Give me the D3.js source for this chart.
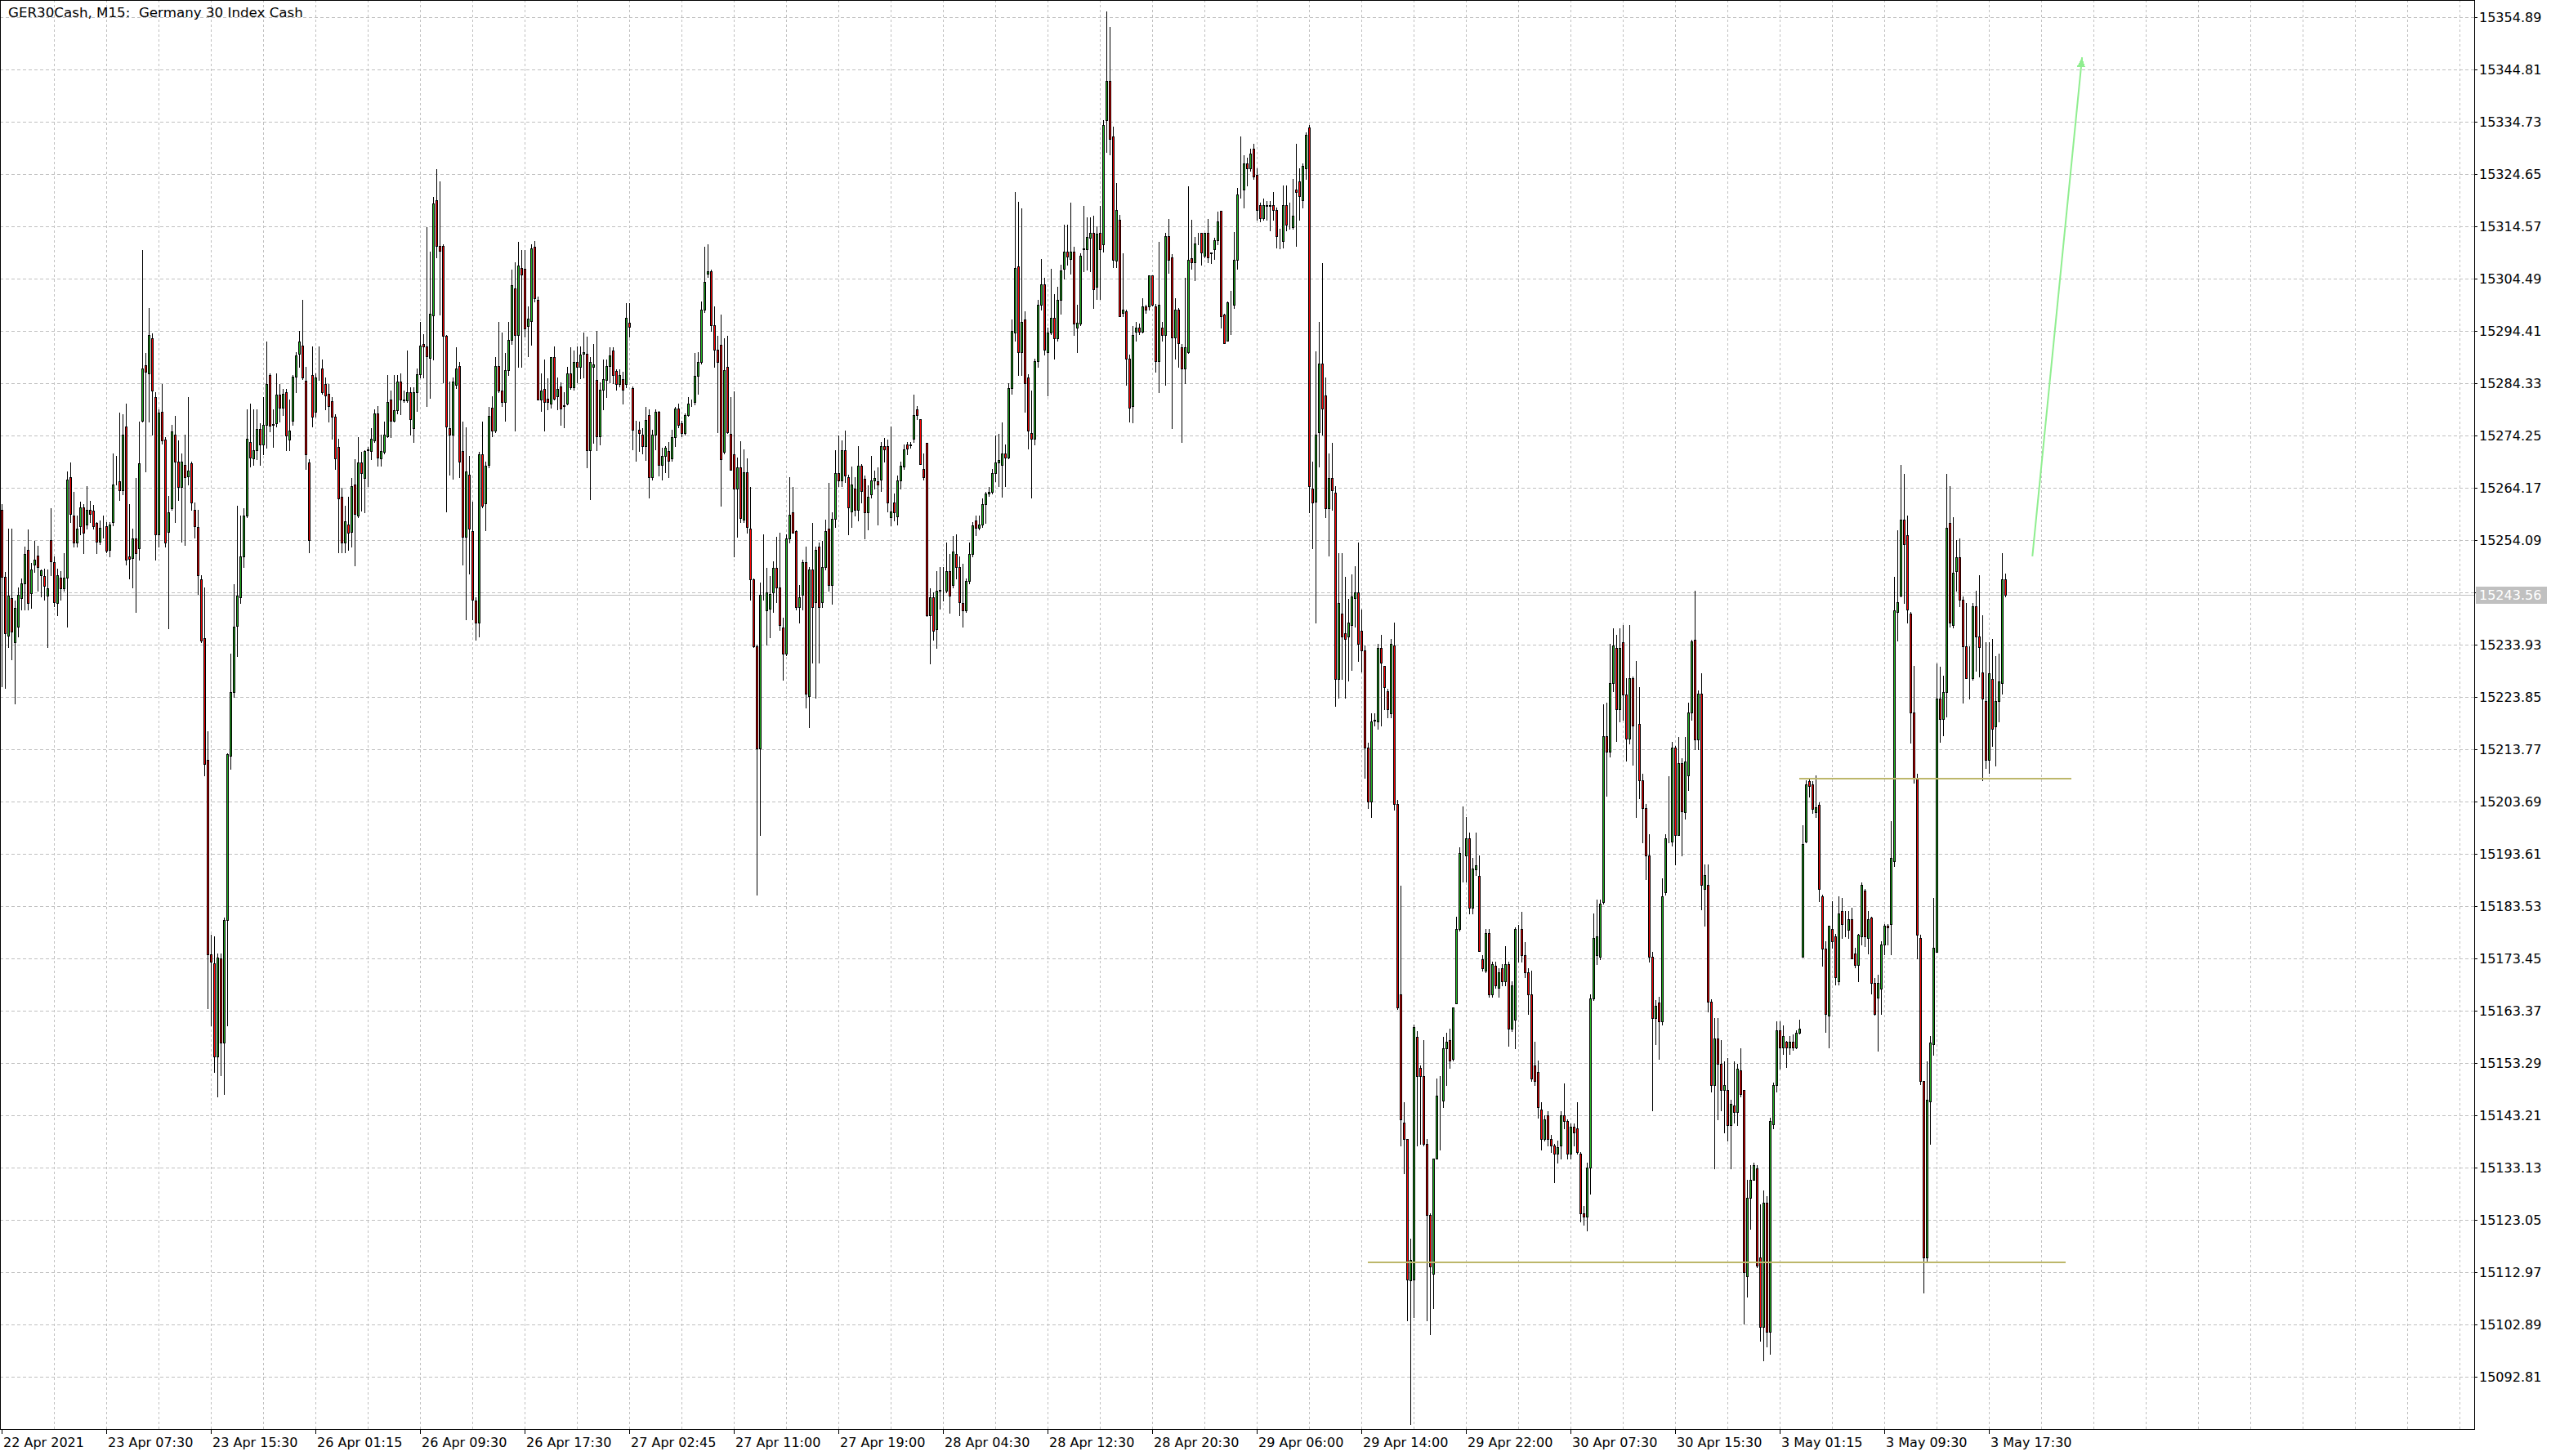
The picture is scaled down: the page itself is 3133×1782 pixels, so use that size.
<!DOCTYPE html>
<html><head><meta charset="utf-8">
<script src="https://cdn.jsdelivr.net/npm/d3@7"></script>
<style>html,body{margin:0;padding:0;background:#fff;}svg{display:block;}text{white-space:pre;}</style>
</head><body>
<script>
const chartTitle = "GER30Cash, M15:  Germany 30 Index Cash";
const timeLabels = ["22 Apr 2021","23 Apr 07:30","23 Apr 15:30","26 Apr 01:15","26 Apr 09:30","26 Apr 17:30","27 Apr 02:45","27 Apr 11:00","27 Apr 19:00","28 Apr 04:30","28 Apr 12:30","28 Apr 20:30","29 Apr 06:00","29 Apr 14:00","29 Apr 22:00","30 Apr 07:30","30 Apr 15:30","3 May 01:15","3 May 09:30","3 May 17:30"];
const barsPerLabel = 32;
const barsPerGrid = 16;
const priceTicks = [15354.89,15344.81,15334.73,15324.65,15314.57,15304.49,15294.41,15284.33,15274.25,15264.17,15254.09,15244.01,15233.93,15223.85,15213.77,15203.69,15193.61,15183.53,15173.45,15163.37,15153.29,15143.21,15133.13,15123.05,15112.97,15102.89,15092.81];
const currentPrice = 15243.56;
const priceDomain = [15082.77, 15358.24];
const barDomain = [0, 756.5];

const opens = [
15260.0,15247.0,15235.7,15242.9,15234.5,15237.4,15242.9,15245.8,15252.2,15243.9,
15249.4,15251.1,15247.3,15247.2,15243.5,15254.1,15249.9,15242.0,15246.9,15244.9,
15246.9,15266.3,15258.8,15253.7,15256.8,15260.4,15257.1,15259.9,15259.8,15257.4,
15253.8,15255.2,15256.8,15252.2,15257.6,15265.5,15265.5,15263.7,15276.0,15251.0,
15250.6,15254.4,15252.6,15277.2,15287.8,15286.3,15293.1,15281.7,15255.2,15278.9,
15273.5,15255.7,15260.3,15274.5,15269.3,15264.3,15268.7,15266.4,15268.9,15260.0,
15256.7,15246.5,15235.3,15211.8,15174.2,15172.6,15154.6,15173.5,15157.3,15180.9,
15212.5,15224.9,15237.6,15243.1,15251.0,15258.8,15273.1,15269.9,15271.5,15275.5,
15272.6,15276.4,15285.9,15276.5,15276.7,15282.1,15279.6,15282.7,15273.5,15277.2,
15285.6,15290.0,15291.6,15284.9,15269.1,15286.0,15278.8,15286.3,15287.2,15284.2,
15282.3,15280.9,15277.9,15272.1,15262.5,15253.7,15257.1,15255.7,15264.9,15258.9,
15269.1,15266.1,15271.5,15271.3,15273.3,15278.6,15269.9,15271.2,15274.2,15281.2,
15277.2,15279.1,15284.7,15281.2,15281.0,15282.7,15275.7,15282.7,15286.1,15292.0,
15291.5,15289.2,15297.4,15319.6,15310.9,15310.8,15293.5,15275.7,15274.5,15284.1,
15287.7,15271.3,15254.7,15266.8,15255.8,15242.5,15238.3,15270.7,15261.2,15268.6,
15279.6,15275.2,15287.7,15283.0,15280.7,15286.9,15292.7,15302.7,15293.6,15306.6,
15306.5,15295.4,15296.3,15310.6,15300.5,15281.2,15283.3,15281.4,15280.5,15289.4,
15281.9,15283.8,15280.0,15280.4,15286.3,15283.6,15288.4,15287.5,15290.0,15290.1,
15271.4,15287.5,15285.0,15274.1,15283.1,15285.0,15287.7,15290.6,15286.8,15284.2,
15285.1,15284.2,15296.1,15283.4,15275.4,15275.4,15274.4,15272.3,15278.3,15266.3,
15274.5,15278.8,15268.6,15270.4,15271.3,15269.9,15274.0,15279.5,15276.6,15274.7,
15278.3,15280.4,15280.7,15285.8,15288.4,15298.5,15305.4,15306.0,15295.6,15290.9,
15291.8,15271.1,15287.5,15274.6,15270.6,15264.1,15268.2,15258.1,15267.2,15256.4,
15246.5,15233.6,15214.0,15243.7,15240.6,15240.9,15244.0,15248.8,15245.0,15237.3,
15232.3,15254.4,15259.5,15255.8,15241.2,15243.6,15249.9,15224.1,15248.4,15242.1,
15252.8,15242.1,15248.9,15256.4,15245.5,15258.3,15267.1,15265.6,15271.4,15266.2,
15259.7,15264.1,15259.9,15268.5,15265.9,15259.5,15262.9,15265.7,15265.5,15265.8,
15272.2,15272.2,15258.6,15261.4,15258.7,15265.7,15268.3,15272.6,15272.4,15273.7,
15279.3,15277.4,15267.9,15272.9,15239.6,15243.1,15237.0,15244.4,15244.5,15244.4,
15248.1,15245.5,15251.5,15248.9,15242.0,15240.6,15246.2,15251.5,15257.9,15256.5,
15257.1,15261.0,15263.1,15263.4,15267.1,15269.1,15268.7,15270.9,15270.1,15283.5,
15294.1,15306.9,15290.4,15296.6,15285.5,15274.8,15273.7,15288.7,15299.5,15303.4,
15290.4,15294.1,15296.9,15293.0,15300.5,15306.4,15309.8,15308.3,15309.8,15295.1,
15295.9,15310.2,15310.2,15312.4,15313.4,15302.9,15313.4,15311.1,15335.1,15342.7,
15331.9,15308.0,15315.9,15297.9,15298.2,15289.1,15280.0,15294.3,15295.1,15294.3,
15299.1,15299.1,15305.1,15299.1,15288.7,15295.1,15293.6,15312.7,15308.7,15293.2,
15298.6,15291.3,15287.2,15290.4,15308.5,15307.7,15312.0,15313.3,15308.9,15313.3,
15309.4,15310.2,15312.0,15317.6,15297.6,15292.5,15299.9,15299.5,15308.1,15320.7,
15321.7,15326.7,15325.8,15329.5,15324.5,15318.7,15316.2,15318.6,15318.7,15318.7,
15317.8,15312.5,15311.7,15318.7,15315.0,15314.5,15321.7,15323.3,15319.7,15325.8,
15333.7,15264.1,15261.6,15275.0,15288.2,15282.0,15260.3,15266.1,15263.3,15227.4,
15240.0,15236.1,15235.5,15237.8,15243.0,15244.1,15236.6,15232.8,15214.1,15203.8,
15219.4,15219.1,15233.3,15229.8,15225.0,15220.8,15233.8,15203.3,15166.6,15141.9,
15138.7,15111.4,15111.6,15158.3,15152.4,15150.8,15137.8,15124.1,15112.7,15134.9,
15146.6,15146.1,15156.1,15157.8,15154.1,15164.9,15179.1,15193.3,15193.3,15196.6,
15183.3,15190.6,15189.4,15173.3,15171.1,15178.3,15166.6,15172.1,15167.8,15171.6,
15169.1,15172.4,15159.9,15161.6,15179.1,15179.1,15174.1,15170.8,15166.6,15152.8,
15151.6,15144.4,15138.7,15143.3,15138.7,15137.4,15135.8,15137.4,15143.3,15142.1,
15135.8,15141.1,15140.8,15135.8,15124.4,15123.7,15133.2,15165.8,15174.1,15173.8,
15184.4,15216.3,15213.3,15226.6,15233.3,15221.6,15234.4,15224.4,15215.8,15227.5,
15218.3,15218.7,15207.8,15202.4,15193.3,15173.8,15162.0,15165.0,15161.4,15186.3,
15196.4,15196.0,15214.2,15197.2,15211.2,15201.7,15208.8,15220.9,15234.9,15215.7,
15224.6,15186.9,15187.7,15165.2,15149.0,15158.1,15153.1,15148.1,15148.1,15141.3,
15145.1,15143.9,15151.9,15148.1,15112.2,15127.3,15130.8,15133.0,15115.8,15102.4,
15126.4,15101.5,15141.5,15149.0,15159.6,15156.4,15157.4,15156.4,15157.4,15156.4,
15159.2,15173.8,15196.0,15207.6,15207.0,15201.7,15203.1,15185.4,15175.4,15162.4,
15179.2,15177.8,15169.1,15182.7,15179.4,15179.0,15181.0,15174.4,15172.3,15177.8,
15186.5,15177.4,15181.3,15168.8,15165.9,15167.6,15176.2,15179.8,15180.1,15192.2,
15240.2,15243.4,15258.0,15255.0,15239.9,15220.9,15208.2,15177.4,15149.8,15115.8,
15146.0,15156.9,15174.7,15223.6,15219.7,15224.8,15257.4,15237.8,15248.2,15250.9,
15242.6,15233.7,15227.8,15227.5,15241.4,15235.5,15228.6,15223.1,15211.8,15227.3,
15218.2,15223.1,15226.5,15246.5];

const highs = [
15261.0,15248.0,15256.4,15256.4,15242.5,15245.0,15246.8,15252.8,15256.2,15249.8,
15254.0,15253.0,15248.5,15248.6,15248.5,15260.3,15251.0,15248.6,15248.2,15251.6,
15267.3,15269.1,15263.5,15258.8,15261.5,15261.0,15264.6,15261.7,15260.9,15257.6,
15257.9,15258.8,15257.6,15257.6,15270.9,15270.3,15278.7,15278.4,15280.5,15261.0,
15256.4,15266.1,15276.9,15310.1,15290.2,15298.8,15294.0,15282.7,15279.3,15284.2,
15273.9,15262.7,15276.3,15278.1,15273.3,15270.9,15274.5,15281.7,15269.3,15261.3,
15260.0,15247.4,15245.0,15217.3,15178.1,15177.8,15174.5,15174.5,15181.3,15213.1,
15232.3,15245.7,15260.7,15258.8,15260.3,15279.3,15280.5,15279.3,15279.3,15276.7,
15281.7,15292.4,15286.3,15279.3,15286.3,15284.2,15283.2,15283.2,15281.3,15286.0,
15290.4,15294.4,15300.4,15287.5,15269.7,15291.4,15286.3,15291.4,15289.0,15285.4,
15284.2,15281.7,15278.4,15273.6,15264.2,15260.7,15262.5,15266.1,15269.7,15273.9,
15271.2,15271.5,15272.1,15275.7,15279.3,15280.0,15274.5,15276.9,15286.0,15283.0,
15286.0,15286.0,15286.3,15282.9,15290.7,15283.6,15283.6,15287.2,15296.2,15293.8,
15314.5,15309.7,15320.3,15325.6,15323.3,15311.1,15293.7,15284.7,15285.5,15291.3,
15288.4,15277.0,15275.9,15270.4,15261.6,15243.1,15271.1,15277.0,15269.3,15279.8,
15281.9,15289.4,15296.2,15294.2,15290.2,15296.2,15306.3,15307.7,15311.6,15310.1,
15310.1,15299.1,15311.1,15311.8,15301.0,15286.3,15288.9,15285.3,15289.4,15291.5,
15285.5,15284.6,15282.6,15287.5,15291.3,15290.6,15291.5,15291.5,15294.2,15293.4,
15289.4,15292.0,15294.4,15284.6,15288.9,15288.9,15291.3,15291.3,15287.0,15287.0,
15286.5,15299.8,15299.8,15283.8,15277.1,15276.9,15275.7,15279.8,15279.3,15275.4,
15279.3,15279.0,15272.0,15272.3,15273.0,15275.4,15279.8,15280.4,15277.1,15278.6,
15281.7,15281.2,15290.2,15290.4,15300.2,15310.6,15311.1,15306.3,15299.1,15293.5,
15297.6,15293.0,15293.5,15281.7,15282.8,15270.1,15273.2,15271.6,15269.9,15264.3,
15246.8,15233.9,15246.0,15255.2,15248.8,15247.2,15250.1,15254.7,15255.6,15239.2,
15255.2,15266.3,15264.3,15256.1,15245.5,15250.3,15252.8,15248.9,15257.4,15252.8,
15253.7,15253.9,15258.1,15265.1,15259.5,15271.4,15274.3,15273.4,15275.2,15266.8,
15268.3,15266.3,15272.2,15268.8,15266.5,15264.7,15270.3,15267.5,15268.2,15273.1,
15273.8,15273.5,15276.1,15263.1,15266.6,15269.2,15272.6,15273.0,15273.1,15282.2,
15280.0,15277.4,15270.8,15272.9,15244.9,15244.1,15248.1,15249.0,15249.0,15253.7,
15251.5,15254.9,15255.2,15251.0,15249.5,15246.8,15253.6,15257.6,15258.8,15258.8,
15262.2,15263.5,15264.4,15267.9,15274.3,15274.6,15276.8,15272.6,15284.3,15296.6,
15321.3,15319.4,15318.1,15298.2,15286.1,15283.0,15289.1,15300.5,15308.3,15304.7,
15295.1,15306.4,15301.6,15302.9,15307.2,15315.0,15315.0,15319.2,15310.7,15299.5,
15309.4,15318.6,15316.3,15316.3,15316.6,15314.6,15318.6,15335.1,15356.1,15353.1,
15333.9,15323.0,15316.8,15309.4,15298.6,15289.9,15295.4,15296.2,15295.9,15300.7,
15299.5,15305.1,15305.1,15299.6,15311.6,15296.2,15313.3,15316.1,15309.2,15300.7,
15298.8,15291.9,15304.7,15322.4,15315.9,15312.6,15313.3,15313.3,15313.3,15316.1,
15309.5,15312.4,15317.5,15317.6,15297.7,15300.1,15302.1,15313.5,15322.0,15331.9,
15328.3,15327.8,15329.5,15330.5,15325.8,15319.2,15320.0,15319.5,15319.5,15321.2,
15318.3,15314.2,15322.5,15322.5,15319.2,15323.8,15330.5,15325.8,15326.7,15332.8,
15334.2,15269.2,15290.5,15296.2,15307.5,15285.5,15270.8,15272.8,15264.5,15251.6,
15251.6,15247.1,15242.8,15247.5,15249.1,15253.6,15240.8,15233.8,15215.0,15220.8,
15220.8,15234.1,15235.8,15229.8,15225.5,15235.0,15238.3,15204.1,15187.5,15145.8,
15138.7,15119.4,15160.8,15159.4,15152.8,15157.8,15138.7,15124.4,15134.9,15150.4,
15150.8,15158.3,15159.1,15159.9,15164.1,15181.6,15194.9,15202.8,15200.8,15197.8,
15192.8,15197.8,15193.3,15174.1,15179.1,15179.1,15172.8,15172.8,15171.6,15172.4,
15175.8,15172.8,15169.1,15179.4,15179.9,15182.4,15176.6,15171.6,15171.1,15157.4,
15153.8,15145.8,15143.3,15144.1,15139.4,15137.8,15138.3,15144.1,15149.4,15142.4,
15141.6,15141.6,15145.8,15136.1,15125.8,15134.1,15166.6,15182.1,15184.9,15184.9,
15222.4,15222.8,15234.1,15237.1,15235.8,15237.1,15237.8,15227.5,15237.8,15227.8,
15230.8,15225.8,15209.1,15203.3,15197.4,15174.7,15165.5,15166.1,15188.9,15197.5,
15208.6,15215.3,15214.5,15216.2,15212.1,15216.2,15222.8,15234.9,15244.3,15225.2,
15228.4,15191.6,15191.6,15165.6,15162.0,15162.0,15157.8,15153.7,15154.3,15146.2,
15153.7,15153.1,15156.1,15148.1,15130.8,15133.6,15134.1,15133.6,15126.1,15128.8,
15127.6,15142.7,15149.6,15161.4,15161.4,15160.5,15157.6,15158.6,15158.8,15159.6,
15161.6,15199.1,15207.9,15208.2,15207.6,15208.8,15203.5,15185.7,15176.8,15179.8,
15184.5,15178.2,15185.4,15185.1,15182.7,15182.7,15183.3,15175.6,15178.2,15188.1,
15186.9,15182.7,15181.6,15169.7,15170.3,15176.8,15180.1,15180.1,15199.9,15247.0,
15256.1,15268.7,15266.9,15258.8,15240.2,15229.9,15209.1,15178.0,15149.8,15153.7,
15158.5,15185.1,15230.4,15229.7,15228.0,15266.9,15264.5,15258.6,15254.1,15254.4,
15243.2,15242.0,15233.7,15242.0,15244.4,15247.3,15239.7,15234.5,15234.4,15235.0,
15231.8,15232.2,15251.6,15247.6];

const lows = [
15226.0,15225.7,15233.5,15231.1,15222.7,15235.6,15240.8,15240.8,15240.8,15241.0,
15248.0,15244.4,15243.2,15242.6,15233.5,15247.4,15241.4,15239.6,15242.6,15244.3,
15237.4,15257.6,15252.8,15252.8,15255.2,15251.6,15256.4,15257.6,15256.4,15251.6,
15253.3,15254.6,15251.8,15251.0,15256.9,15264.9,15261.8,15263.0,15249.4,15246.8,
15245.0,15240.2,15250.4,15277.0,15267.3,15277.0,15274.5,15250.4,15252.8,15272.7,
15252.8,15237.1,15260.0,15257.6,15261.8,15253.8,15253.2,15264.9,15260.0,15254.6,
15243.7,15234.4,15208.8,15163.9,15160.6,15151.6,15146.8,15151.0,15147.4,15160.6,
15210.0,15223.9,15231.7,15242.0,15249.0,15258.6,15268.3,15268.7,15269.7,15268.7,
15270.7,15271.9,15275.1,15272.1,15276.0,15276.9,15278.2,15271.5,15271.5,15276.3,
15282.7,15287.5,15285.1,15267.9,15251.7,15276.0,15277.9,15285.0,15282.3,15279.3,
15277.0,15273.6,15267.9,15251.7,15251.7,15251.8,15252.2,15252.9,15249.2,15258.6,
15259.8,15259.5,15264.5,15269.7,15273.0,15268.5,15268.5,15270.9,15274.0,15274.0,
15277.0,15278.5,15278.4,15280.8,15280.8,15274.5,15273.0,15279.0,15285.5,15285.5,
15280.0,15281.5,15288.9,15308.7,15297.6,15284.6,15259.7,15266.7,15266.0,15283.4,
15266.3,15249.4,15238.8,15247.7,15238.8,15234.9,15235.6,15260.5,15256.1,15268.2,
15274.2,15274.9,15282.7,15280.0,15277.1,15286.0,15292.0,15275.2,15287.6,15287.6,
15293.3,15289.6,15291.8,15300.2,15281.2,15279.0,15275.2,15279.3,15279.6,15281.2,
15279.3,15276.4,15275.9,15280.2,15283.3,15283.1,15284.6,15285.3,15285.5,15268.2,
15262.0,15272.8,15271.5,15272.5,15279.3,15281.7,15284.6,15284.4,15283.1,15283.8,
15280.5,15283.6,15293.3,15271.6,15269.4,15271.3,15270.9,15269.6,15262.4,15265.8,
15271.6,15266.5,15265.8,15267.2,15266.3,15269.4,15272.2,15275.9,15274.2,15274.4,
15278.0,15279.9,15280.2,15282.4,15288.2,15298.1,15304.8,15294.4,15287.5,15274.9,
15260.7,15270.9,15274.8,15267.7,15251.0,15254.7,15257.6,15257.6,15255.6,15242.6,
15233.5,15185.8,15197.3,15242.6,15233.9,15235.4,15240.2,15242.1,15236.8,15227.2,
15232.0,15253.7,15255.6,15240.7,15238.3,15240.7,15221.9,15218.0,15230.5,15223.8,
15230.5,15241.2,15248.4,15244.3,15241.9,15256.7,15264.5,15264.5,15265.3,15255.3,
15256.7,15258.8,15257.9,15261.4,15254.5,15256.2,15262.3,15264.0,15257.1,15263.6,
15269.2,15259.7,15257.0,15257.9,15257.1,15264.0,15267.9,15270.6,15272.0,15273.1,
15277.4,15268.8,15265.8,15239.5,15230.4,15234.9,15233.3,15240.9,15242.4,15244.1,
15240.1,15245.0,15246.7,15239.6,15237.5,15240.3,15245.8,15251.0,15255.0,15256.2,
15256.7,15257.5,15262.7,15263.1,15265.4,15264.5,15262.5,15264.5,15269.9,15282.4,
15292.5,15285.9,15285.9,15278.9,15271.8,15262.4,15272.6,15287.5,15298.6,15289.9,
15282.0,15293.9,15289.1,15292.5,15297.7,15304.5,15307.2,15305.4,15293.6,15290.4,
15295.6,15306.0,15306.2,15306.0,15298.8,15300.6,15300.6,15309.8,15328.9,15328.5,
15306.8,15306.8,15297.3,15297.3,15284.1,15277.0,15276.8,15292.5,15293.9,15294.1,
15297.9,15298.6,15299.3,15286.5,15282.6,15292.5,15284.1,15305.7,15275.7,15289.1,
15287.6,15273.1,15284.4,15290.2,15306.4,15304.2,15311.1,15307.2,15308.6,15307.7,
15307.5,15308.3,15311.1,15295.1,15292.1,15292.5,15293.9,15298.8,15306.4,15320.2,
15318.3,15322.5,15325.3,15323.8,15315.8,15315.5,15315.8,15315.8,15313.8,15315.8,
15310.5,15310.3,15310.5,15313.8,15314.2,15314.2,15310.8,15315.8,15318.3,15323.8,
15259.5,15252.5,15238.3,15268.3,15274.5,15258.6,15251.1,15260.0,15222.1,15223.8,
15227.4,15223.8,15227.1,15229.1,15237.5,15230.8,15228.8,15208.3,15202.4,15200.8,
15218.3,15217.8,15218.3,15221.6,15220.0,15220.0,15202.1,15163.8,15137.4,15132.1,
15103.7,15083.7,15104.4,15137.4,15137.8,15137.4,15103.7,15101.1,15106.1,15134.9,
15136.6,15144.9,15149.1,15152.4,15153.8,15164.9,15178.8,15188.3,15188.3,15182.1,
15182.1,15189.5,15174.9,15171.1,15170.8,15166.1,15166.1,15167.8,15166.1,15168.3,
15168.3,15156.6,15159.4,15156.1,15172.8,15172.8,15169.9,15162.8,15149.9,15149.1,
15142.8,15136.6,15138.3,15137.4,15136.1,15130.4,15134.1,15134.9,15140.8,15134.9,
15134.9,15137.4,15135.8,15122.8,15122.1,15121.1,15128.2,15165.4,15172.4,15173.3,
15184.1,15204.9,15212.4,15225.0,15215.4,15219.1,15219.5,15211.6,15214.9,15210.8,
15200.8,15204.4,15195.8,15188.7,15172.8,15144.2,15156.9,15154.1,15160.8,15185.7,
15195.8,15195.2,15191.6,15197.2,15193.4,15200.5,15205.9,15219.5,15213.8,15213.8,
15183.0,15179.8,15163.2,15147.8,15133.0,15142.4,15144.2,15140.0,15138.3,15133.0,
15141.9,15141.3,15146.9,15103.1,15108.3,15121.4,15130.8,15114.0,15099.8,15096.0,
15098.6,15097.2,15140.7,15147.8,15152.3,15155.0,15152.5,15155.0,15155.8,15156.2,
15159.0,15173.8,15195.8,15204.7,15201.5,15200.8,15184.5,15172.1,15159.3,15156.4,
15175.6,15168.5,15168.5,15177.4,15177.8,15177.4,15173.5,15171.8,15169.1,15176.2,
15175.9,15174.4,15166.7,15162.6,15155.7,15162.8,15174.2,15176.2,15174.2,15191.3,
15234.7,15243.2,15242.0,15238.2,15215.0,15207.4,15173.5,15149.3,15109.0,15115.2,
15137.7,15154.9,15174.7,15215.3,15216.5,15220.1,15237.5,15237.3,15244.4,15241.4,
15222.8,15227.5,15223.6,15227.2,15229.0,15227.8,15207.9,15210.2,15209.2,15214.5,
15210.7,15219.1,15224.6,15243.2];

const closes = [
15247.0,15236.2,15243.4,15236.5,15241.0,15243.6,15245.8,15251.4,15242.0,15248.5,
15250.3,15249.0,15248.3,15245.3,15244.8,15250.0,15242.1,15247.4,15244.9,15246.9,
15265.8,15259.1,15253.7,15256.4,15260.4,15255.5,15260.0,15259.1,15256.8,15253.8,
15256.5,15255.3,15252.1,15257.1,15264.9,15265.5,15263.7,15274.5,15250.4,15250.5,
15254.4,15251.6,15268.9,15287.2,15286.6,15293.6,15282.9,15255.2,15278.7,15273.3,
15253.7,15259.5,15275.1,15269.3,15264.3,15269.3,15266.3,15267.5,15261.3,15256.8,
15247.4,15234.7,15210.9,15174.2,15172.9,15154.6,15173.6,15157.3,15180.9,15212.8,
15224.9,15237.4,15243.4,15251.0,15258.8,15273.6,15270.1,15271.4,15275.5,15272.6,
15276.3,15284.2,15276.2,15276.4,15282.1,15279.6,15282.4,15274.3,15275.2,15285.6,
15289.8,15292.4,15285.4,15270.7,15254.1,15277.9,15285.4,15286.2,15282.7,15282.0,
15280.0,15277.9,15269.9,15262.2,15253.7,15257.7,15255.6,15264.5,15259.1,15269.1,
15267.1,15271.3,15271.6,15273.6,15278.5,15270.1,15271.3,15274.5,15280.8,15277.2,
15279.1,15284.7,15281.3,15281.1,15282.7,15277.4,15282.7,15286.1,15291.6,15291.5,
15289.6,15297.8,15319.1,15310.9,15309.9,15293.5,15276.1,15274.5,15284.7,15287.2,
15269.2,15254.7,15267.4,15256.3,15242.6,15238.3,15270.7,15260.7,15268.4,15278.1,
15275.2,15287.7,15283.0,15280.7,15286.9,15292.7,15303.2,15293.6,15307.1,15305.3,
15294.9,15296.8,15310.3,15300.8,15281.2,15282.9,15280.7,15280.7,15289.4,15281.4,
15283.3,15279.5,15280.1,15286.3,15283.6,15288.4,15287.5,15289.9,15290.4,15271.4,
15288.4,15288.0,15274.1,15283.1,15285.1,15287.7,15289.7,15286.0,15284.2,15286.0,
15283.1,15296.9,15295.2,15275.4,15275.4,15274.7,15272.3,15277.3,15266.3,15274.5,
15278.8,15268.6,15270.3,15272.0,15269.4,15274.0,15279.5,15276.4,15274.7,15278.3,
15280.4,15280.5,15285.8,15288.4,15298.5,15303.9,15306.0,15295.6,15290.9,15288.4,
15269.7,15286.9,15274.9,15267.7,15264.1,15268.2,15258.4,15267.2,15256.6,15246.5,
15233.6,15214.0,15243.6,15243.8,15244.0,15243.8,15248.8,15245.0,15237.8,15232.3,
15254.4,15259.0,15255.6,15241.2,15243.1,15249.9,15224.6,15248.4,15241.2,15252.3,
15241.2,15248.9,15255.8,15245.5,15258.3,15267.1,15265.6,15271.4,15266.6,15260.5,
15264.9,15259.9,15268.5,15263.6,15259.5,15262.5,15265.7,15266.1,15264.9,15272.2,
15271.6,15261.4,15259.7,15259.5,15265.7,15268.5,15271.6,15271.8,15272.5,15278.2,
15278.3,15268.8,15266.2,15239.6,15243.1,15236.6,15244.4,15244.5,15244.5,15248.1,
15243.5,15251.9,15248.9,15242.1,15240.6,15246.2,15251.5,15256.9,15256.5,15257.1,
15261.0,15263.1,15263.5,15267.1,15269.1,15269.6,15270.9,15270.1,15283.5,15294.5,
15306.6,15290.4,15296.2,15284.4,15275.2,15273.7,15288.7,15299.5,15303.4,15290.8,
15294.1,15296.9,15293.0,15300.5,15306.1,15309.8,15308.8,15309.8,15295.9,15296.0,
15309.0,15310.3,15312.6,15313.4,15302.5,15313.2,15310.2,15334.1,15342.7,15331.5,
15308.1,15317.8,15297.3,15298.6,15289.1,15279.6,15293.6,15295.1,15294.3,15299.1,
15298.6,15305.1,15299.5,15288.7,15299.5,15293.6,15312.7,15308.1,15293.2,15298.6,
15292.1,15287.2,15291.3,15308.1,15307.7,15311.3,15312.0,15309.6,15313.3,15308.6,
15309.5,15312.0,15315.5,15297.3,15292.1,15299.9,15300.0,15308.1,15320.7,15320.7,
15326.7,15325.8,15328.7,15324.2,15317.8,15316.2,15318.7,15318.7,15318.6,15317.8,
15312.8,15312.5,15318.7,15315.0,15315.0,15316.7,15321.2,15320.5,15326.2,15332.2,
15264.5,15261.3,15274.5,15288.2,15279.5,15260.3,15266.1,15263.8,15227.4,15242.0,
15235.5,15235.0,15238.3,15243.3,15244.1,15234.1,15232.8,15214.1,15203.8,15219.1,
15219.5,15233.3,15230.5,15225.8,15221.6,15234.1,15203.3,15164.1,15142.4,15138.7,
15111.6,15115.4,15160.3,15150.8,15150.8,15137.8,15124.1,15114.1,15134.9,15147.1,
15146.6,15156.1,15157.4,15153.8,15164.1,15179.1,15193.8,15193.3,15196.6,15183.3,
15190.8,15191.4,15174.9,15171.6,15178.3,15166.6,15172.4,15168.3,15170.8,15169.1,
15172.4,15159.9,15168.3,15179.1,15179.2,15174.1,15170.8,15166.6,15150.4,15149.9,
15144.9,15138.7,15142.4,15138.7,15137.4,15135.8,15137.1,15143.3,15142.1,15135.8,
15141.1,15139.9,15136.1,15124.4,15123.7,15133.2,15165.8,15177.4,15177.8,15184.1,
15216.3,15213.3,15226.6,15233.8,15221.6,15233.3,15224.4,15215.8,15227.5,15218.3,
15218.3,15207.8,15202.4,15193.3,15173.8,15162.0,15164.4,15161.4,15185.4,15196.7,
15196.4,15214.2,15197.2,15211.2,15201.9,15211.4,15220.9,15234.6,15215.7,15224.6,
15187.7,15189.6,15165.2,15149.0,15158.1,15153.1,15148.1,15149.0,15141.3,15145.4,
15143.9,15152.2,15147.4,15113.0,15127.3,15130.8,15133.6,15114.2,15102.4,15126.4,
15101.5,15142.2,15149.0,15159.6,15156.4,15158.5,15156.4,15157.4,15156.4,15159.2,
15159.9,15195.5,15207.0,15206.7,15202.3,15202.7,15186.9,15175.4,15162.8,15179.8,
15176.8,15169.9,15182.1,15180.1,15179.4,15181.0,15173.5,15172.3,15178.0,15187.7,
15177.8,15181.0,15168.8,15162.8,15168.8,15176.2,15179.8,15179.4,15192.8,15240.6,
15242.2,15258.0,15253.3,15240.8,15220.9,15208.2,15178.0,15149.8,15115.8,15146.2,
15157.3,15175.6,15223.6,15219.7,15224.8,15256.5,15238.2,15247.9,15250.9,15242.6,
15233.7,15227.5,15227.8,15241.4,15235.5,15233.5,15223.6,15211.8,15228.4,15217.7,
15223.1,15226.9,15246.5,15243.56];

// Drawn objects (bar index / price coordinates)
const supportLines = [
  {fromBar: 417.8, toBar: 631.4, price: 15114.85},
  {fromBar: 549.9, toBar: 633.2, price: 15208.2}
];
const arrowLine = {fromBar: 621.2, fromPrice: 15251.0, toBar: 636.4, toPrice: 15347.2};

// ---------- layout ----------
const W = 3133, H = 1782;
const plot = {left: 0, right: 3028, top: 0, bottom: 1749};
const FONT = "'DejaVu Sans', Verdana, sans-serif";
const bullColor = "#20b020", bearColor = "#ff0000";

const x = d3.scaleLinear().domain(barDomain).range([2.5, 3028.5]);
const y = d3.scaleLinear().domain(priceDomain).range([plot.bottom, plot.top]);

const svg = d3.select("body").append("svg").attr("width", W).attr("height", H)
  .attr("shape-rendering", "crispEdges");
svg.append("rect").attr("width", W).attr("height", H).attr("fill", "#fff");

// horizontal grid
svg.append("g").selectAll("line").data(priceTicks).join("line")
  .attr("x1", plot.left).attr("x2", plot.right)
  .attr("y1", d => Math.round(y(d)) + 0.5).attr("y2", d => Math.round(y(d)) + 0.5)
  .attr("stroke", "#c0c0c0").attr("stroke-width", 1).attr("stroke-dasharray", "4,3");

// vertical grid
const gridBars = d3.range(barsPerGrid, barDomain[1], barsPerGrid);
svg.append("g").selectAll("line").data(gridBars).join("line")
  .attr("x1", d => x(d)).attr("x2", d => x(d))
  .attr("y1", plot.top).attr("y2", plot.bottom)
  .attr("stroke", "#c0c0c0").attr("stroke-width", 1).attr("stroke-dasharray", "3,3");

// current price line
svg.append("line").attr("x1", plot.left).attr("x2", plot.right)
  .attr("y1", Math.round(y(currentPrice)) + 0.5).attr("y2", Math.round(y(currentPrice)) + 0.5)
  .attr("stroke", "#c0c0c0").attr("stroke-width", 1);

// candles
const bars = opens.map((o, i) => ({i, o, h: highs[i], l: lows[i], c: closes[i]}));
const cg = svg.append("g");
cg.selectAll("line").data(bars).join("line")
  .attr("x1", d => x(d.i)).attr("x2", d => x(d.i))
  .attr("y1", d => Math.round(y(d.h))).attr("y2", d => Math.round(y(d.l)) + 1)
  .attr("stroke", "#000").attr("stroke-width", 1);
cg.selectAll("rect").data(bars).join("rect")
  .attr("x", d => x(d.i) - 1).attr("width", 2)
  .attr("y", d => Math.round(y(Math.max(d.o, d.c))) + 0.5)
  .attr("height", d => Math.round(y(Math.min(d.o, d.c))) - Math.round(y(Math.max(d.o, d.c))))
  .attr("fill", d => d.c >= d.o ? bullColor : bearColor)
  .attr("stroke", "#000").attr("stroke-width", 1);

// support lines
svg.append("g").selectAll("line").data(supportLines).join("line")
  .attr("x1", d => x(d.fromBar)).attr("x2", d => x(d.toBar))
  .attr("y1", d => Math.round(y(d.price))).attr("y2", d => Math.round(y(d.price)))
  .attr("stroke", "#bdb76b").attr("stroke-width", 2);

// arrow
const defs = svg.append("defs");
defs.append("marker").attr("id", "ah").attr("markerUnits", "userSpaceOnUse")
  .attr("markerWidth", 14).attr("markerHeight", 14).attr("refX", 12).attr("refY", 6)
  .attr("orient", "auto")
  .append("path").attr("d", "M0,1 L12,6 L0,11 Z").attr("fill", "#90ee90");
svg.append("line")
  .attr("x1", x(arrowLine.fromBar)).attr("y1", y(arrowLine.fromPrice))
  .attr("x2", x(arrowLine.toBar)).attr("y2", y(arrowLine.toPrice))
  .attr("stroke", "#90ee90").attr("stroke-width", 2).attr("shape-rendering", "auto")
  .attr("marker-end", "url(#ah)");

// border
svg.append("rect").attr("x", 0.5).attr("y", 0.5).attr("width", plot.right).attr("height", plot.bottom)
  .attr("fill", "none").attr("stroke", "#000").attr("stroke-width", 1);

// y axis labels
const ya = svg.append("g");
ya.selectAll("line").data(priceTicks).join("line")
  .attr("x1", plot.right).attr("x2", plot.right + 4)
  .attr("y1", d => Math.round(y(d)) + 0.5).attr("y2", d => Math.round(y(d)) + 0.5)
  .attr("stroke", "#000");
ya.selectAll("text").data(priceTicks).join("text")
  .attr("x", plot.right + 6).attr("y", d => y(d)).attr("dy", "0.36em")
  .attr("font-family", FONT).attr("font-size", 16).attr("fill", "#000")
  .text(d => d.toFixed(2));

// current price label
svg.append("rect").attr("x", plot.right + 2).attr("y", Math.round(y(currentPrice)) - 10)
  .attr("width", 87).attr("height", 21).attr("fill", "#c0c0c0");
svg.append("text").attr("x", plot.right + 6).attr("y", y(currentPrice)).attr("dy", "0.36em")
  .attr("font-family", FONT).attr("font-size", 16).attr("fill", "#fff")
  .text(currentPrice.toFixed(2));

// x axis labels
const xa = svg.append("g");
xa.selectAll("line").data(timeLabels).join("line")
  .attr("x1", (d, k) => x(k * barsPerLabel)).attr("x2", (d, k) => x(k * barsPerLabel))
  .attr("y1", plot.bottom).attr("y2", plot.bottom + 6).attr("stroke", "#000");
xa.selectAll("text").data(timeLabels).join("text")
  .attr("x", (d, k) => x(k * barsPerLabel) + 1.5).attr("y", 1771)
  .attr("font-family", FONT).attr("font-size", 16).attr("fill", "#000")
  .text(d => d);

// title
svg.append("text").attr("x", 10).attr("y", 21)
  .attr("xml:space", "preserve")
  .attr("font-family", FONT).attr("font-size", 16.7).attr("fill", "#000")
  .text(chartTitle);
</script>
</body></html>
